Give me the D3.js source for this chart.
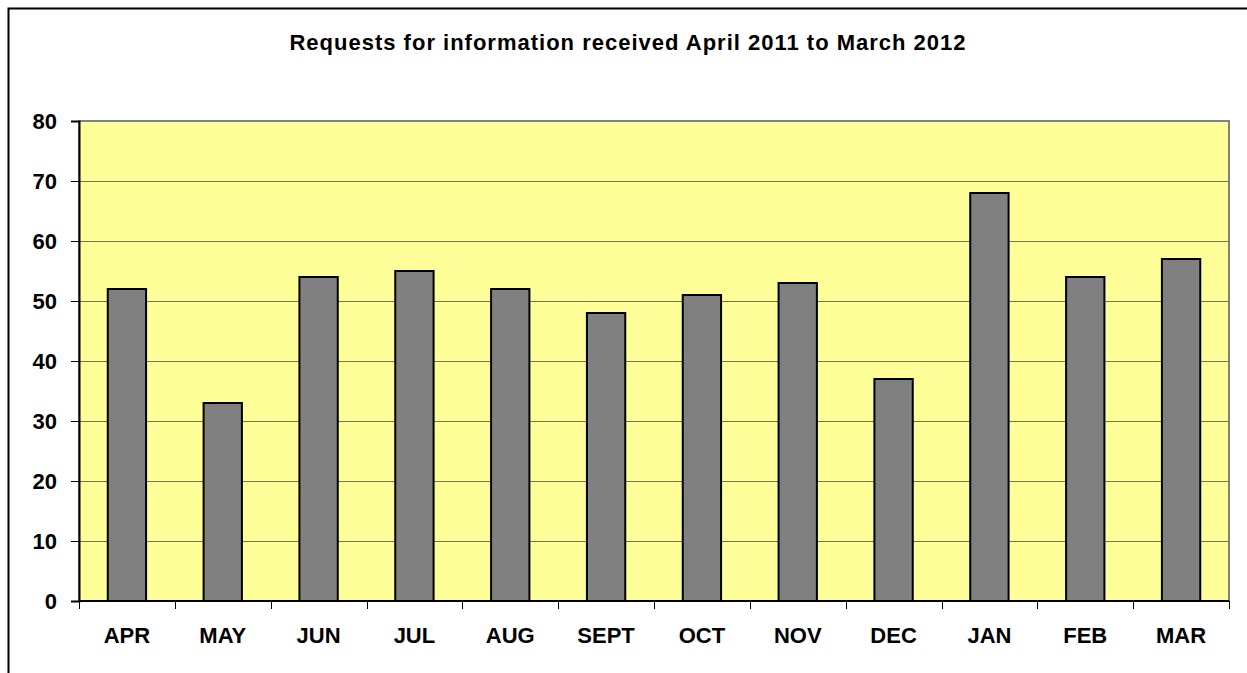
<!DOCTYPE html>
<html>
<head>
<meta charset="utf-8">
<script src="https://d3js.org/d3.v7.min.js"></script>
<style>
  body { margin: 0; background: #fff; }
  svg text { font-family: Arial, "Liberation Sans", sans-serif; font-weight: bold; fill: #000; }
</style>
</head>
<body>
<div id="chart"></div>
<script>
  // data
  let months = ["APR", "MAY", "JUN", "JUL", "AUG", "SEPT", "OCT", "NOV", "DEC", "JAN", "FEB", "MAR"]
  let requests = [52, 33, 54, 55, 52, 48, 51, 53, 37, 68, 54, 57]
  let yTicks = [0, 10, 20, 30, 40, 50, 60, 70, 80]
  let title = "Requests for information received April 2011 to March 2012"

  let w = 1247
  let h = 673
  let plot = { left: 79, right: 1229, top: 121, bottom: 601 }

  let svg = d3.select("#chart")
      .append("svg")
      .attr("width", w)
      .attr("height", h)

  /* outer chart frame (right and bottom fall outside the window) */
  svg.append("path")
      .attr("d", "M8.5," + h + "V8.5H" + w)
      .attr("fill", "none")
      .attr("stroke", "#000")
      .attr("stroke-width", 2)

  svg.append("text")
      .attr("x", 628)
      .attr("y", 50)
      .attr("text-anchor", "middle")
      .style("font-size", "22px")
      .style("letter-spacing", "1px")
      .text(title)

  let x = d3.scaleBand()
      .domain(months)
      .range([plot.left, plot.right])
      .paddingInner(0.6)
      .paddingOuter(0.3)

  let xTick = d3.scaleBand()
      .domain(months)
      .range([plot.left, plot.right])

  let y = d3.scaleLinear()
      .domain([0, 80])
      .range([plot.bottom, plot.top])

  /* plot area */
  svg.append("rect")
      .attr("x", plot.left)
      .attr("y", plot.top)
      .attr("width", plot.right - plot.left)
      .attr("height", plot.bottom - plot.top)
      .attr("fill", "#ffff99")
      .attr("stroke", "#808080")
      .attr("stroke-width", 2)

  /* gridlines */
  svg.append("g")
      .selectAll("line")
      .data(yTicks.filter(function (d) { return d > 0 && d < 80 }))
      .enter()
      .append("line")
      .attr("x1", plot.left)
      .attr("x2", plot.right)
      .attr("y1", function (d) { return Math.round(y(d)) + 0.5 })
      .attr("y2", function (d) { return Math.round(y(d)) + 0.5 })
      .attr("stroke", "#77774a")
      .attr("stroke-width", 1)

  /* bars */
  svg.append("g")
      .selectAll("rect")
      .data(requests)
      .enter()
      .append("rect")
      .attr("x", function (d, i) { return x(months[i]) })
      .attr("y", function (d) { return y(d) })
      .attr("width", x.bandwidth())
      .attr("height", function (d) { return y(0) - y(d) })
      .attr("fill", "#808080")
      .attr("stroke", "#000")
      .attr("stroke-width", 2)

  /* y axis */
  let yAxis = d3.axisLeft(y)
      .tickValues(yTicks)
      .tickSize(8)
      .tickPadding(14)
  let gy = svg.append("g")
      .attr("transform", "translate(" + plot.left + ",0)")
      .call(yAxis)
  gy.select(".domain").attr("stroke", "#000").attr("stroke-width", 2)
  gy.selectAll(".tick line").attr("stroke", "#000")
  gy.selectAll("text")
      .style("font-size", "22px")
      .attr("font-family", "Arial, 'Liberation Sans', sans-serif")
      .attr("font-weight", "bold")

  /* x axis: ticks between categories */
  let gx = svg.append("g")
      .attr("transform", "translate(0," + plot.bottom + ")")
  gx.append("line")
      .attr("x1", plot.left)
      .attr("x2", plot.right)
      .attr("stroke", "#000")
      .attr("stroke-width", 2)
  gx.selectAll(".xtick")
      .data(months.concat(["end"]))
      .enter()
      .append("line")
      .attr("class", "xtick")
      .attr("x1", function (d, i) { return Math.round(plot.left + i * xTick.bandwidth()) + 0.5 })
      .attr("x2", function (d, i) { return Math.round(plot.left + i * xTick.bandwidth()) + 0.5 })
      .attr("y1", 0)
      .attr("y2", 8)
      .attr("stroke", "#000")
  gx.selectAll(".xlabel")
      .data(months)
      .enter()
      .append("text")
      .attr("class", "xlabel")
      .attr("x", function (d) { return xTick(d) + xTick.bandwidth() / 2 })
      .attr("y", 42)
      .attr("text-anchor", "middle")
      .style("font-size", "22px")
      .text(function (d) { return d })
</script>
</body>
</html>
